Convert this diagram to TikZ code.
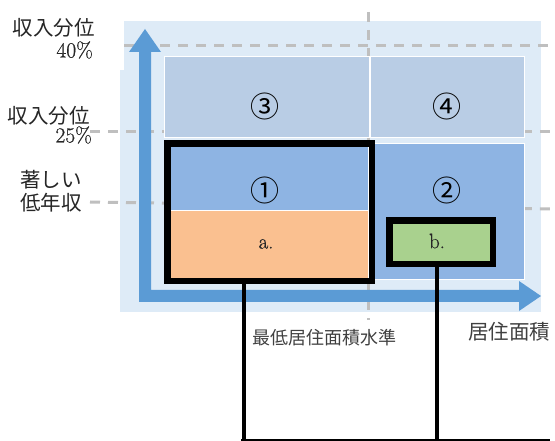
\documentclass[tikz,border=0pt]{standalone}
\usepackage{fontspec}
\setmainfont{Latin Modern Roman}
\newfontfamily\jp{Noto Sans CJK JP}
\newfontfamily\numfont{Latin Modern Roman}[FakeBold=0.7]
\definecolor{panelbg}{HTML}{DEEBF7}
\definecolor{arrowblue}{HTML}{5B9BD5}
\definecolor{lightcell}{HTML}{B9CDE5}
\definecolor{midcell}{HTML}{8EB4E3}
\definecolor{orangecell}{HTML}{FAC090}
\definecolor{greencell}{HTML}{A9D18E}
\definecolor{guide}{HTML}{BFBFBF}
\definecolor{txt}{HTML}{262626}
\definecolor{graytxt}{HTML}{404040}
\tikzset{
  guideline/.style={draw=guide, line width=3pt, dash pattern=on 10pt off 8pt},
  cell/.style={draw=white, line width=1.2pt, inner sep=0pt, anchor=north west},
  framebox/.style={draw=black, line width=6.5pt, inner sep=0pt, anchor=north west},
  connector/.style={draw=black, line width=4pt},
  baseline/.style={draw=black, line width=1.5pt},
  axislabel/.style={font=\jp\fontsize{20.5}{22}\selectfont, text=txt, inner sep=0pt},
  numlabel/.style={font=\numfont\fontsize{21.5}{22}\selectfont, text=txt, inner sep=0pt},
  circnum/.style={font=\jp\fontsize{29}{30}\selectfont, text=black, inner sep=0pt},
  letterlabel/.style={font=\numfont\fontsize{21}{22}\selectfont, text=txt, inner sep=0pt}
}
\begin{document}
\begin{tikzpicture}[x=1pt, y=-1pt]
\useasboundingbox (0,0) rectangle (555,441);
% light background panel
\fill[panelbg] (124,21) rectangle (541,312);
\fill[panelbg] (120,70) rectangle (541,312);
% dashed guide lines
\draw[guideline] (124,46) -- (555,46);
\draw[guideline] (90,132) -- (555,132);
\draw[guideline] (90,202) -- (555,209);
\draw[guideline] (368,12) -- (368,320);
% cells
\node[cell, fill=lightcell, minimum width=205pt, minimum height=81pt] (c3) at (164,56) {};
\node[cell, fill=lightcell, minimum width=154pt, minimum height=81pt] (c4) at (370,56) {};
\node[cell, fill=midcell, minimum width=154pt, minimum height=136pt] (c2) at (370,143) {};
\node[cell, fill=midcell, minimum width=204pt, minimum height=70pt] (c1) at (164,140) {};
\node[cell, fill=orangecell, minimum width=204pt, minimum height=68pt] (ca) at (164,210) {};
% axes arrow
\fill[arrowblue] (145,29) -- (161,52) -- (151,52) -- (151,290) -- (519,290) -- (519,281)
  -- (541,296) -- (519,311) -- (519,302) -- (139,302) -- (139,52) -- (129,52) -- cycle;
% frames
\node[framebox, minimum width=204.5pt, minimum height=137.5pt] (boxA) at (164.25,140.25) {};
\node[framebox, fill=greencell, minimum width=103.5pt, minimum height=43.5pt] (boxB) at (386.25,217.25) {};
% cell labels
\node[circnum] (n3) at (265,106.5) {③};
\node[circnum] (n4) at (447,106.5) {④};
\node[circnum] (n1) at (265,190) {①};
\node[circnum] (n2) at (447,190) {②};
\node[letterlabel] (la) at (266,244) {a.};
\node[letterlabel] (lb) at (437,241) {b.};
% axis labels
\node[axislabel, anchor=east] (q40a) at (95,28) {収入分位};
\node[numlabel, anchor=east] (q40b) at (93,50) {40\%};
\node[axislabel, anchor=east] (q25a) at (90,116) {収入分位};
\node[numlabel, anchor=east] (q25b) at (92,135) {25\%};
\node[axislabel, anchor=west] (lowa) at (20,180) {著しい};
\node[axislabel, anchor=west] (lowb) at (20,203) {低年収};
\node[font=\jp\fontsize{18}{20}\selectfont, text=graytxt, inner sep=0pt, anchor=west] (minstd) at (252,338) {最低居住面積水準};
\node[axislabel, text=graytxt, anchor=west] (area) at (468,332) {居住面積};
% connectors
\coordinate (endA) at (244,439.5);
\coordinate (endB) at (436.5,439.5);
\coordinate (lineL) at (241,440);
\coordinate (lineR) at (550,440);
\draw[connector] (boxA.south -| endA) -- (endA);
\draw[connector] (boxB.south -| endB) -- (endB);
\draw[baseline] (lineL) -- (lineR);
\end{tikzpicture}
\end{document}
